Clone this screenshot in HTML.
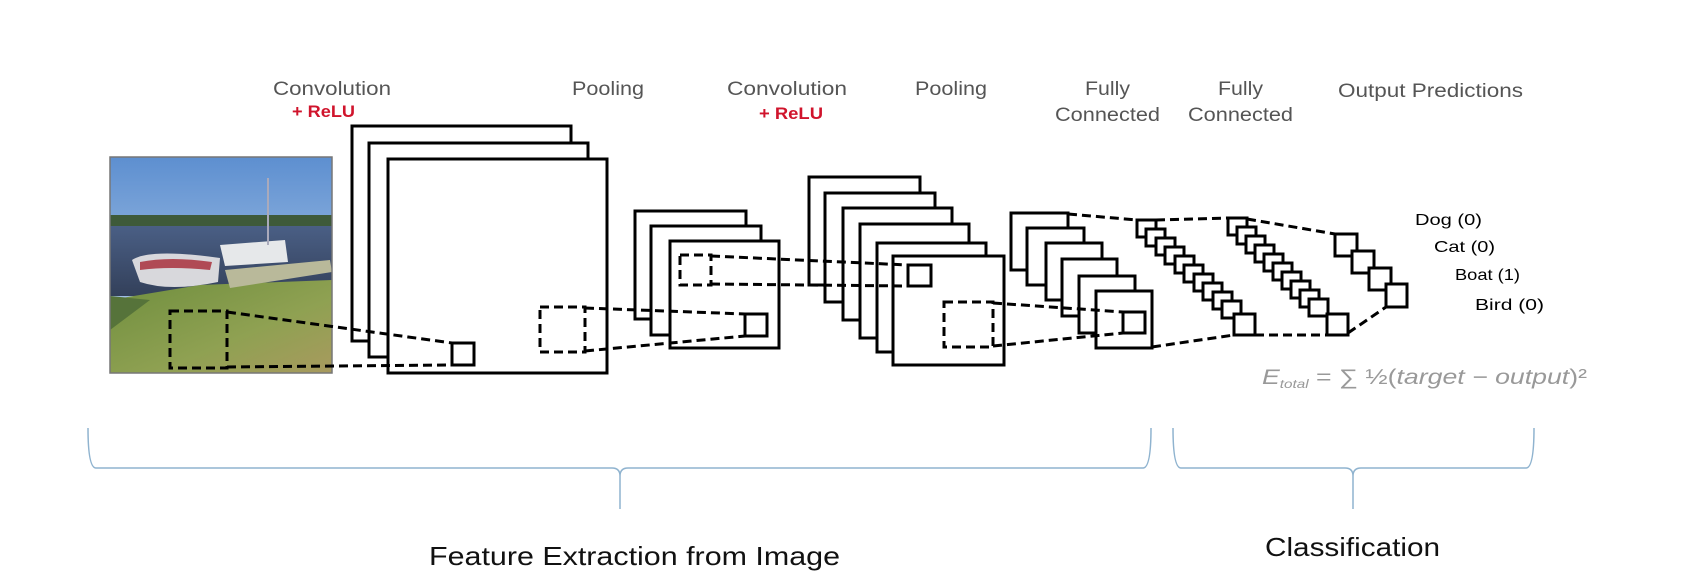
<!DOCTYPE html>
<html><head><meta charset="utf-8"><style>
html,body{margin:0;padding:0;background:#fff;}
svg{display:block;}
text{font-family:"Liberation Sans",sans-serif;}
</style></head><body>
<svg width="1681" height="580" viewBox="0 0 1681 580" xmlns="http://www.w3.org/2000/svg">
<defs>
<linearGradient id="sky" x1="0" y1="0" x2="0" y2="1">
<stop offset="0" stop-color="#5d8fd0"/><stop offset="1" stop-color="#c6d9ee"/></linearGradient>
<linearGradient id="water" x1="0" y1="0" x2="0" y2="1">
<stop offset="0" stop-color="#4a5f85"/><stop offset="1" stop-color="#33405a"/></linearGradient>
<linearGradient id="grass" x1="0" y1="0" x2="1" y2="1">
<stop offset="0" stop-color="#6f8e3e"/><stop offset="0.6" stop-color="#8fa152"/><stop offset="1" stop-color="#a89a5e"/></linearGradient>
</defs>

<g fill="#555" font-size="19">
<text x="273" y="95" textLength="118" lengthAdjust="spacingAndGlyphs">Convolution</text>
<text x="572" y="95" textLength="72" lengthAdjust="spacingAndGlyphs">Pooling</text>
<text x="727" y="95" textLength="120" lengthAdjust="spacingAndGlyphs">Convolution</text>
<text x="915" y="95" textLength="72" lengthAdjust="spacingAndGlyphs">Pooling</text>
<text x="1085" y="95" textLength="45" lengthAdjust="spacingAndGlyphs">Fully</text>
<text x="1055" y="121" textLength="105" lengthAdjust="spacingAndGlyphs">Connected</text>
<text x="1218" y="95" textLength="45" lengthAdjust="spacingAndGlyphs">Fully</text>
<text x="1188" y="121" textLength="105" lengthAdjust="spacingAndGlyphs">Connected</text>
<text x="1338" y="97" textLength="185" lengthAdjust="spacingAndGlyphs">Output Predictions</text>
</g>
<g fill="#d0142c" font-size="17" font-weight="bold">
<text x="292" y="117" textLength="63" lengthAdjust="spacingAndGlyphs">+ ReLU</text>
<text x="759" y="119" textLength="64" lengthAdjust="spacingAndGlyphs">+ ReLU</text>
</g>

<g>
<rect x="110" y="157" width="222" height="216" fill="url(#sky)"/>
<rect x="110" y="215" width="222" height="12" fill="#3e5a3a"/>
<rect x="110" y="226" width="222" height="70" fill="url(#water)"/>
<path d="M110 300 L200 285 L332 280 L332 373 L110 373Z" fill="url(#grass)"/>
<path d="M110 330 L150 300 L110 296Z" fill="#56733a"/>
<path d="M132 260 Q150 248 220 258 L218 282 Q170 292 140 282Z" fill="#d8d8dc"/>
<path d="M140 262 Q170 256 212 262 L210 270 Q170 266 140 270Z" fill="#b04a55"/>
<path d="M220 245 L285 240 L288 262 L225 266Z" fill="#e6e8ea"/>
<line x1="268" y1="178" x2="268" y2="245" stroke="#aab" stroke-width="2"/>
<path d="M225 270 L330 260 L332 272 L230 288Z" fill="#b9b99a"/>
<rect x="110" y="157" width="222" height="216" fill="none" stroke="#777" stroke-width="1.5"/>
</g>

<g fill="#fff" stroke="#000" stroke-width="3">
<rect x="352" y="126" width="219" height="215"/>
<rect x="369" y="143" width="219" height="214"/>
<rect x="388" y="159" width="219" height="214"/>
<rect x="635" y="211" width="111" height="108"/>
<rect x="651" y="226" width="110" height="109"/>
<rect x="670" y="241" width="109" height="107"/>
<rect x="809" y="177" width="111" height="108"/>
<rect x="825" y="193" width="110" height="109"/>
<rect x="843" y="208" width="109" height="112"/>
<rect x="860" y="224" width="109" height="114"/>
<rect x="877" y="243" width="109" height="109"/>
<rect x="893" y="256" width="111" height="109"/>
<rect x="1011" y="213" width="57" height="57"/>
<rect x="1027" y="228" width="57" height="57"/>
<rect x="1046" y="243" width="56" height="57"/>
<rect x="1062" y="259" width="55" height="57"/>
<rect x="1079" y="276" width="56" height="57"/>
<rect x="1096" y="291" width="56" height="57"/>
</g>

<g fill="#fff" stroke="#000" stroke-width="3">
<rect x="1137" y="220" width="19" height="17"/>
<rect x="1146" y="229" width="19" height="17"/>
<rect x="1156" y="238" width="19" height="17"/>
<rect x="1165" y="247" width="19" height="17"/>
<rect x="1175" y="256" width="19" height="17"/>
<rect x="1184" y="265" width="19" height="17"/>
<rect x="1194" y="274" width="19" height="17"/>
<rect x="1203" y="283" width="19" height="17"/>
<rect x="1213" y="292" width="19" height="17"/>
<rect x="1222" y="301" width="19" height="17"/>
<rect x="1234" y="314" width="21" height="21"/>
<rect x="1228" y="218" width="19" height="17"/>
<rect x="1237" y="227" width="19" height="17"/>
<rect x="1246" y="236" width="19" height="17"/>
<rect x="1255" y="245" width="19" height="17"/>
<rect x="1264" y="254" width="19" height="17"/>
<rect x="1273" y="263" width="19" height="17"/>
<rect x="1282" y="272" width="19" height="17"/>
<rect x="1291" y="281" width="19" height="17"/>
<rect x="1300" y="290" width="19" height="17"/>
<rect x="1309" y="299" width="19" height="17"/>
<rect x="1327" y="314" width="21" height="21"/>
<rect x="1335" y="234" width="22" height="22"/>
<rect x="1352" y="251" width="22" height="22"/>
<rect x="1369" y="268" width="22" height="22"/>
<rect x="1386" y="284" width="21" height="23"/>
</g>

<g fill="none" stroke="#000" stroke-width="3">
<rect x="452" y="343" width="22" height="22"/>
<rect x="745" y="314" width="22" height="22"/>
<rect x="908" y="265" width="23" height="21"/>
<rect x="1123" y="312" width="22" height="21"/>
</g>

<g fill="none" stroke="#000" stroke-width="3" stroke-dasharray="9 5">
<rect x="170" y="311" width="57" height="57"/>
<line x1="227" y1="312" x2="452" y2="343"/>
<line x1="227" y1="367" x2="452" y2="365"/>
<rect x="540" y="307" width="45" height="45"/>
<line x1="585" y1="308" x2="745" y2="314"/>
<line x1="585" y1="351" x2="745" y2="336"/>
<rect x="680" y="255" width="31" height="30"/>
<line x1="711" y1="256" x2="908" y2="265"/>
<line x1="711" y1="284" x2="908" y2="286"/>
<rect x="944" y="302" width="49" height="45"/>
<line x1="993" y1="303" x2="1123" y2="312"/>
<line x1="993" y1="346" x2="1123" y2="333"/>
<line x1="1068" y1="214" x2="1137" y2="220"/>
<line x1="1152" y1="347" x2="1234" y2="335"/>
<line x1="1156" y1="220" x2="1228" y2="218"/>
<line x1="1255" y1="335" x2="1327" y2="335"/>
<line x1="1247" y1="219" x2="1335" y2="234"/>
<line x1="1348" y1="333" x2="1386" y2="307"/>
</g>

<g fill="#000" font-size="16">
<text x="1415" y="225" textLength="67" lengthAdjust="spacingAndGlyphs">Dog (0)</text>
<text x="1434" y="252" textLength="61" lengthAdjust="spacingAndGlyphs">Cat (0)</text>
<text x="1455" y="280" textLength="65" lengthAdjust="spacingAndGlyphs">Boat (1)</text>
<text x="1475" y="310" textLength="69" lengthAdjust="spacingAndGlyphs">Bird (0)</text>
</g>
<text x="1262" y="384" font-family="Liberation Serif,serif" font-style="italic" font-size="21" fill="#999" textLength="325" lengthAdjust="spacingAndGlyphs">E<tspan font-size="12" dy="4">total</tspan><tspan dy="-4" font-style="normal"> = ∑ ½(</tspan>target − output<tspan font-style="normal">)²</tspan></text>

<g fill="none" stroke="#8fb3cf" stroke-width="1.5">
<path d="M88 428 Q88 468 96 468 L612 468 Q620 468 620 476 L620 509 M620 476 Q620 468 628 468 L1143 468 Q1151 468 1151 428"/>
<path d="M1173 428 Q1173 468 1181 468 L1345 468 Q1353 468 1353 476 L1353 509 M1353 476 Q1353 468 1361 468 L1526 468 Q1534 468 1534 428"/>
</g>

<text x="429" y="565" font-size="26" fill="#111" textLength="411" lengthAdjust="spacingAndGlyphs">Feature Extraction from Image</text>
<text x="1265" y="556" font-size="26" fill="#111" textLength="175" lengthAdjust="spacingAndGlyphs">Classification</text>
</svg>
</body></html>
